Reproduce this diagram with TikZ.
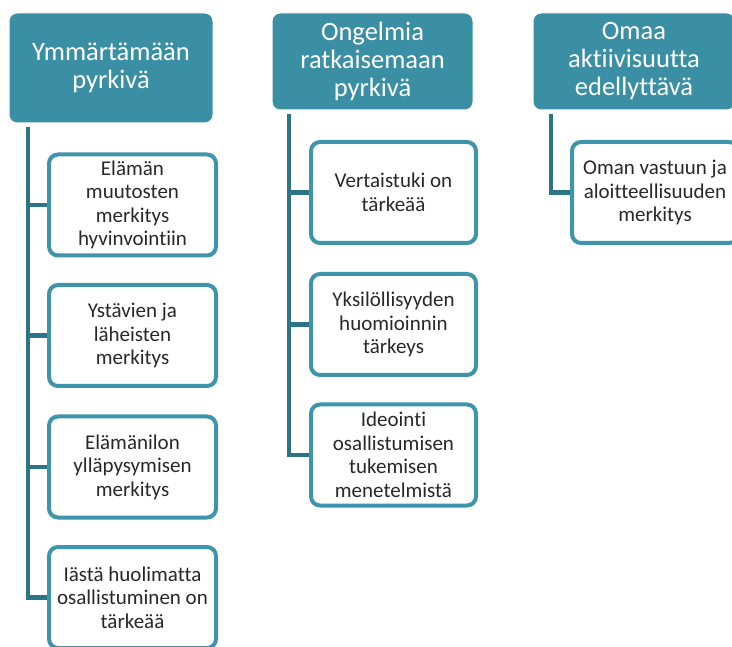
\documentclass[tikz,border=0pt]{standalone}
\usepackage{fontspec}
\setmainfont{Carlito}[Ligatures=NoCommon]
\usetikzlibrary{positioning}
\definecolor{headteal}{RGB}{58,143,165}
\definecolor{boxteal}{RGB}{62,148,170}
\definecolor{linkteal}{RGB}{44,116,136}
\definecolor{txtgray}{RGB}{40,40,40}
\tikzset{
  head/.style={fill=headteal, draw=white, line width=1pt, rounded corners=8pt,
    text=white, align=center, font=\fontsize{26.5}{28}\selectfont,
    minimum height=97pt},
  item/.style={fill=white, draw=boxteal, line width=4pt, rounded corners=9pt,
    text=txtgray, align=center, font=\fontsize{21}{23.5}\selectfont,
    minimum width=167pt, minimum height=101pt},
  link/.style={draw=linkteal, line width=4.5pt}
}
\begin{document}
\begin{tikzpicture}[x=1pt,y=-1pt]
  \useasboundingbox (0,0) rectangle (732,647);
  % otsikot
  \node[head, minimum width=204pt, minimum height=110pt] (h1) at (111,68) {Ymmärtämään\\pyrkivä};
  \node[head, minimum width=201pt] (h2) at (372.5,61.5) {Ongelmia\\ratkaisemaan\\pyrkivä};
  \node[head, minimum width=202pt] (h3) at (634,61.5) {Omaa\\aktiivisuutta\\edellyttävä};
  % ensimmäinen sarake
  \node[item] (c11) at (132.5,205) {Elämän\\muutosten\\merkitys\\hyvinvointiin};
  \node[item] (c12) at (132.5,335.5) {Ystävien ja\\läheisten\\merkitys};
  \node[item] (c13) at (132.5,467) {Elämänilon\\ylläpysymisen\\merkitys};
  \node[item] (c14) at (132.5,597.5) {Iästä huolimatta\\osallistuminen on\\tärkeää};
  % toinen sarake
  \node[item, minimum width=165pt] (c21) at (393.5,192.5) {Vertaistuki on\\tärkeää};
  \node[item, minimum width=165pt] (c22) at (393.5,324.5) {Yksilöllisyyden\\huomioinnin\\tärkeys};
  \node[item, minimum width=165pt] (c23) at (393.5,455) {Ideointi\\osallistumisen\\tukemisen\\menetelmistä};
  % kolmas sarake
  \node[item, minimum width=166pt] (c31) at (655,192.5) {Oman vastuun ja\\aloitteellisuuden\\merkitys};
  % yhdysviivat
  \coordinate (t1) at (28,127);
  \coordinate (t2) at (289,114);
  \coordinate (t3) at (551,114);
  \draw[link] (t1) |- (c14.west);
  \foreach \c in {c11,c12,c13} \draw[link] (t1 |- \c.west) -- (\c.west);
  \draw[link] (t2) |- (c23.west);
  \foreach \c in {c21,c22} \draw[link] (t2 |- \c.west) -- (\c.west);
  \draw[link] (t3) |- (c31.west);
\end{tikzpicture}
\end{document}
